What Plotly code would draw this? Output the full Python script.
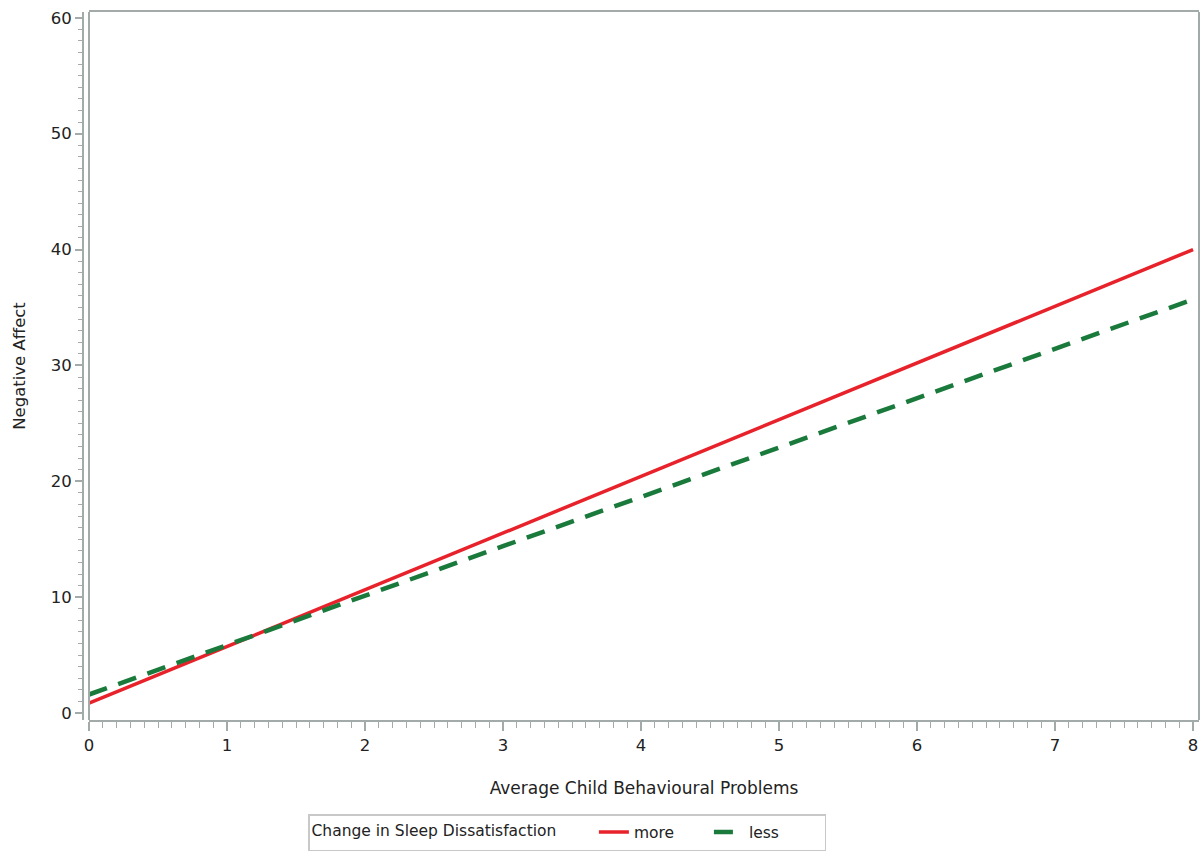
import plotly.graph_objects as go

x_vals = [0, 1, 2, 3, 4, 5, 6, 7, 8]
more_vals = [0.85, 5.75, 10.65, 15.55, 20.45, 25.3, 30.2, 35.1, 40.0]
less_vals = [1.6, 5.9, 10.15, 14.4, 18.65, 22.9, 27.15, 31.4, 35.7]
series_names = ["more", "less"]
legend_title = "Change in Sleep Dissatisfaction"
x_title = "Average Child Behavioural Problems"
y_title = "Negative Affect"

FONT = "DejaVu Sans, Liberation Sans, Arial, sans-serif"
AXIS_COL = "#A3AAAA"
TXT = "#222222"
FS = 16.5
LFS = 15.5

W, H = 1201, 853
ML, MR, MT, MB = 83, 2, 12, 133
PW = W - ML - MR
PH = H - MT - MB

fig = go.Figure()
fig.add_trace(go.Scatter(x=x_vals, y=more_vals, mode="lines", name=series_names[0],
                         line=dict(color="#E8222A", width=3.5)))
fig.add_trace(go.Scatter(x=x_vals, y=less_vals, mode="lines", name=series_names[1],
                         line=dict(color="#1A7A3C", width=4.5, dash="19px,12px")))

fig.update_layout(
    width=W, height=H,
    margin=dict(l=ML, r=MR, t=MT, b=MB, autoexpand=False),
    paper_bgcolor="white", plot_bgcolor="white",
    font=dict(family=FONT, size=FS, color=TXT),
    showlegend=True,
    legend=dict(
        orientation="h", x=(308 - ML) / PW, xanchor="left", y=-(814 - 720) / PH, yanchor="top",
        bordercolor="#C8C8C8", borderwidth=1.5,
        title=dict(text=legend_title + "      ", side="left", font=dict(size=LFS, color=TXT)),
        font=dict(size=LFS, color=TXT),
        entrywidth=70, entrywidthmode="pixels",
        tracegroupgap=0,
    ),
)

fig.update_xaxes(
    domain=[6 / PW, 1],
    range=[0, 8.043], tickmode="array", tickvals=[0, 1, 2, 3, 4, 5, 6, 7, 8],
    ticks="outside", ticklen=9, tickwidth=1.5, tickcolor=AXIS_COL,
    showline=True, linecolor=AXIS_COL, linewidth=2, mirror=True,
    showgrid=False, zeroline=False, automargin=False, ticklabeloverflow="allow",
    tickfont=dict(size=FS, color=TXT),
    title=dict(text=x_title, font=dict(size=17, color=TXT), standoff=28),
    minor=dict(dtick=0.1, tick0=0, ticks="outside", ticklen=6, tickwidth=1, tickcolor=AXIS_COL, showgrid=False),
)
fig.update_yaxes(
    anchor="free", position=0,
    range=[-0.6, 60.5], tickmode="array", tickvals=[0, 10, 20, 30, 40, 50, 60],
    ticks="outside", ticklen=7, tickwidth=1.5, tickcolor=AXIS_COL,
    showline=True, linecolor=AXIS_COL, linewidth=2, mirror=False,
    showgrid=False, zeroline=False, automargin=False, ticklabeloverflow="allow",
    tickfont=dict(size=FS, color=TXT),
    title=dict(text=y_title, font=dict(size=FS, color=TXT), standoff=20),
    minor=dict(dtick=1, tick0=0, ticks="outside", ticklen=4, tickwidth=1, tickcolor=AXIS_COL, showgrid=False),
)

# frame left and right edges of the plotting region
fig.add_shape(type="line", xref="x domain", yref="y domain", x0=0, x1=0, y0=0, y1=1,
              line=dict(color=AXIS_COL, width=2))
fig.add_shape(type="line", xref="x domain", yref="y domain", x0=1, x1=1, y0=0, y1=1,
              line=dict(color=AXIS_COL, width=2))

fig.write_html(
    "out.html",
    config={"displayModeBar": False},
    post_script="document.body.style.margin='0';document.body.style.overflow='hidden';",
)
